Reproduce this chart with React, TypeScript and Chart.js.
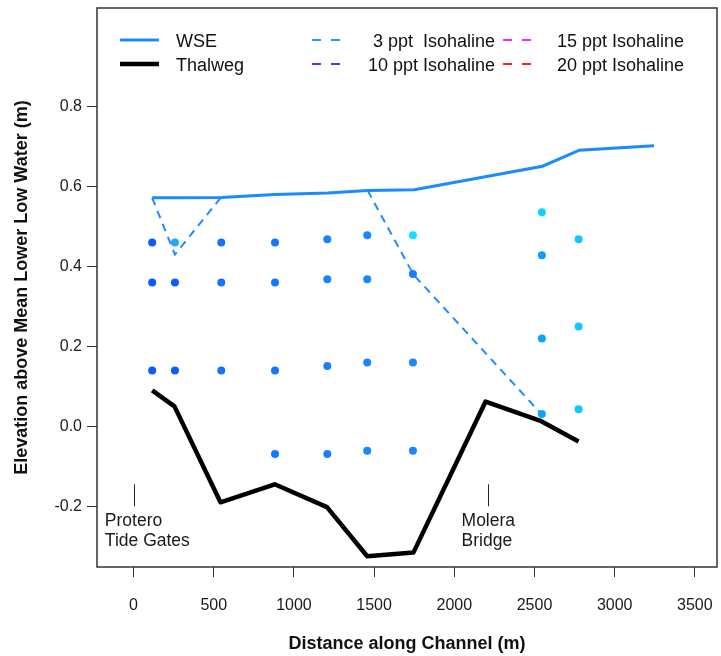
import { useEffect, useRef } from "react";
import { Chart, registerables } from "chart.js";

Chart.register(...registerables);

// ---------- data ----------
const X_TICKS = [0, 500, 1000, 1500, 2000, 2500, 3000, 3500];
const Y_TICKS = [-0.2, 0.0, 0.2, 0.4, 0.6, 0.8];

const WSE_X = [116, 258, 547, 880, 1210, 1460, 1750, 2550, 2780, 3245];
const WSE_Y = [0.572, 0.572, 0.573, 0.58, 0.584, 0.59, 0.592, 0.651, 0.691, 0.702];

const THALWEG_X = [116, 255, 542, 880, 1206, 1457, 1745, 2195, 2542, 2775];
const THALWEG_Y = [0.09, 0.05, -0.19, -0.145, -0.202, -0.325, -0.316, 0.062, 0.013, -0.038];

const ISO3_A_X = [116, 258, 545];
const ISO3_A_Y = [0.572, 0.43, 0.573];
const ISO3_B_X = [1460, 1745, 2545];
const ISO3_B_Y = [0.59, 0.38, 0.03];

const SAMPLE_X = [
  116, 116, 116,
  258, 258, 258,
  547, 547, 547,
  882, 882, 882, 882,
  1208, 1208, 1208, 1208,
  1457, 1457, 1457, 1457,
  1742, 1742, 1742, 1742,
  2546, 2546, 2546, 2546,
  2775, 2775, 2775,
];
const SAMPLE_Y = [
  0.46, 0.36, 0.14,
  0.46, 0.36, 0.14,
  0.46, 0.36, 0.14,
  0.46, 0.36, 0.14, -0.069,
  0.468, 0.368, 0.151, -0.069,
  0.478, 0.368, 0.16, -0.061,
  0.478, 0.381, 0.16, -0.061,
  0.536, 0.428, 0.22, 0.031,
  0.468, 0.25, 0.043,
];

const LEGEND_LABELS = [
  "WSE",
  "Thalweg",
  "3 ppt  Isohaline",
  "10 ppt Isohaline",
  "15 ppt Isohaline",
  "20 ppt Isohaline",
];

const SITE_X = [0, 2212];
const SITE_NAMES = [
  ["Protero", "Tide Gates"],
  ["Molera", "Bridge"],
];
const SITE_TICK_TOP = -0.145;
const SITE_TICK_BOTTOM = -0.2;

const X_TITLE = "Distance along Channel (m)";
const Y_TITLE = "Elevation above Mean Lower Low Water (m)";

// ---------- styles ----------
const SAMPLE_COLORS = [
  "#0a5aff", "#0a5aff", "#0a5aff",
  "#22a6ff", "#0a5cff", "#0a5cff",
  "#1672ff", "#1672ff", "#1672ff",
  "#1478ff", "#1478ff", "#1478ff", "#1478ff",
  "#1a80ff", "#1a80ff", "#1a80ff", "#1a80ff",
  "#1a86ff", "#1a86ff", "#1a86ff", "#1a86ff",
  "#10e2ff", "#1a7cff", "#1a86ff", "#1a86ff",
  "#10d2ff", "#0a9cff", "#0aa4ff", "#0aa4ff",
  "#10c8ff", "#10c8ff", "#10c8ff",
];
const WSE_COLOR = "#1a8cff";
const ISO_COLORS = ["#1e9cff", "#7a20ff", "#ff20ff", "#ff2020"];
const FONT = "'Liberation Sans', Arial, sans-serif";

const pts = (xs: number[], ys: number[]) => xs.map((x, i) => ({ x, y: ys[i] }));

const overlayPlugin = {
  id: "overlay",
  afterDraw(chart: any) {
    const ctx = chart.ctx as CanvasRenderingContext2D;
    const ca = chart.chartArea;
    const xs = chart.scales.x;
    const ys = chart.scales.y;
    ctx.save();
    // plot box
    ctx.strokeStyle = "#333";
    ctx.lineWidth = 1.5;
    ctx.strokeRect(ca.left, ca.top, ca.right - ca.left, ca.bottom - ca.top);

    // site annotations
    ctx.fillStyle = "#1a1a1a";
    ctx.font = `17.5px ${FONT}`;
    ctx.textBaseline = "alphabetic";
    ctx.textAlign = "left";
    SITE_X.forEach((sx, i) => {
      const px = xs.getPixelForValue(sx);
      const y1 = ys.getPixelForValue(SITE_TICK_TOP);
      const y2 = ys.getPixelForValue(SITE_TICK_BOTTOM);
      ctx.strokeStyle = "#222";
      ctx.lineWidth = 1;
      ctx.beginPath();
      ctx.moveTo(Math.round(px) + 0.5, y1);
      ctx.lineTo(Math.round(px) + 0.5, y2);
      ctx.stroke();
      const lines = SITE_NAMES[i];
      const w1 = ctx.measureText(lines[0]).width;
      const left = px - w1 / 2;
      ctx.fillText(lines[0], left, y2 + 20);
      ctx.fillText(lines[1], left, y2 + 40);
    });

    // legend
    const row = [40, 64];
    ctx.font = `18px ${FONT}`;
    ctx.fillStyle = "#111";
    ctx.lineCap = "butt";
    ctx.strokeStyle = WSE_COLOR;
    ctx.lineWidth = 3;
    ctx.beginPath();
    ctx.moveTo(120, row[0]);
    ctx.lineTo(159, row[0]);
    ctx.stroke();
    ctx.strokeStyle = "#000";
    ctx.lineWidth = 4.5;
    ctx.beginPath();
    ctx.moveTo(120, row[1]);
    ctx.lineTo(159, row[1]);
    ctx.stroke();
    ctx.textAlign = "left";
    ctx.fillText(LEGEND_LABELS[0], 176, row[0] + 6.5);
    ctx.fillText(LEGEND_LABELS[1], 176, row[1] + 6.5);
    const dash = (x0: number, y: number, color: string) => {
      ctx.strokeStyle = color;
      ctx.lineWidth = 2;
      ctx.beginPath();
      ctx.moveTo(x0, y);
      ctx.lineTo(x0 + 9, y);
      ctx.moveTo(x0 + 19, y);
      ctx.lineTo(x0 + 28, y);
      ctx.stroke();
    };
    dash(312, row[0], ISO_COLORS[0]);
    dash(312, row[1], ISO_COLORS[1]);
    dash(503, row[0], ISO_COLORS[2]);
    dash(503, row[1], ISO_COLORS[3]);
    ctx.textAlign = "right";
    ctx.fillText(LEGEND_LABELS[2], 495, row[0] + 6.5);
    ctx.fillText(LEGEND_LABELS[3], 495, row[1] + 6.5);
    ctx.textAlign = "left";
    ctx.fillText(LEGEND_LABELS[4], 557, row[0] + 6.5);
    ctx.fillText(LEGEND_LABELS[5], 557, row[1] + 6.5);
    ctx.restore();
  },
};

export default function App() {
  const ref = useRef<HTMLCanvasElement | null>(null);

  useEffect(() => {
    document.body.style.margin = "0";
    const canvas = ref.current;
    if (!canvas) return;
    const chart = new Chart(canvas, {
      type: "scatter",
      data: {
        datasets: [
          {
            label: "samples",
            data: pts(SAMPLE_X, SAMPLE_Y),
            showLine: false,
            pointRadius: 4,
            pointBorderWidth: 0,
            pointBackgroundColor: SAMPLE_COLORS,
            order: 0,
          },
          {
            label: "WSE",
            data: pts(WSE_X, WSE_Y),
            showLine: true,
            borderColor: WSE_COLOR,
            borderWidth: 3,
            pointRadius: 0,
            order: 2,
          },
          {
            label: "Thalweg",
            data: pts(THALWEG_X, THALWEG_Y),
            showLine: true,
            borderColor: "#000",
            borderWidth: 4.5,
            borderJoinStyle: "round",
            pointRadius: 0,
            order: 1,
          },
          {
            label: "3 ppt A",
            data: pts(ISO3_A_X, ISO3_A_Y),
            showLine: true,
            borderColor: "#1e8cff",
            borderWidth: 2,
            borderDash: [8, 6],
            pointRadius: 0,
            order: 3,
          },
          {
            label: "3 ppt B",
            data: pts(ISO3_B_X, ISO3_B_Y),
            showLine: true,
            borderColor: "#1e8cff",
            borderWidth: 2,
            borderDash: [8, 6],
            pointRadius: 0,
            order: 3,
          },
        ],
      },
      options: {
        animation: false,
        responsive: false,
        layout: { padding: { top: 8, right: 3, left: 0, bottom: 0 } },
        plugins: {
          legend: { display: false },
          tooltip: { enabled: false },
        },
        scales: {
          x: {
            type: "linear",
            min: -228,
            max: 3638,
            afterBuildTicks: (s: any) => {
              s.ticks = X_TICKS.map((v) => ({ value: v }));
            },
            afterFit: (s: any) => {
              s.height = 89;
              s.paddingLeft = 0;
              s.paddingRight = 0;
            },
            border: { display: false },
            grid: {
              drawOnChartArea: false,
              drawTicks: true,
              tickLength: 10,
              color: "#333",
              lineWidth: 1,
            },
            ticks: {
              autoSkip: false,
              maxRotation: 0,
              padding: 19,
              color: "#1a1a1a",
              font: { family: FONT, size: 16 },
              callback: (v: any) => String(v),
            },
            title: {
              display: true,
              text: X_TITLE,
              color: "#111",
              font: { family: FONT, size: 18, weight: "bold" },
              padding: { top: 0, bottom: 1 },
            },
          },
          y: {
            type: "linear",
            min: -0.352,
            max: 1.047,
            afterBuildTicks: (s: any) => {
              s.ticks = Y_TICKS.map((v) => ({ value: v }));
            },
            afterFit: (s: any) => {
              s.width = 97;
              s.paddingTop = 0;
              s.paddingBottom = 0;
            },
            border: { display: false },
            grid: {
              drawOnChartArea: false,
              drawTicks: true,
              tickLength: 10,
              color: "#333",
              lineWidth: 1,
            },
            ticks: {
              autoSkip: false,
              padding: 5,
              color: "#1a1a1a",
              font: { family: FONT, size: 16 },
              callback: (v: any) => Number(v).toFixed(1),
            },
            title: {
              display: true,
              text: Y_TITLE,
              color: "#111",
              font: { family: FONT, size: 18, weight: "bold" },
              padding: { top: 11, bottom: 0 },
            },
          },
        },
      },
      plugins: [overlayPlugin],
    });
    return () => chart.destroy();
  }, []);

  return (
    <div style={{ width: 721, height: 656, background: "#fff" }}>
      <canvas ref={ref} width={721} height={656} style={{ display: "block", width: 721, height: 656 }} />
    </div>
  );
}
